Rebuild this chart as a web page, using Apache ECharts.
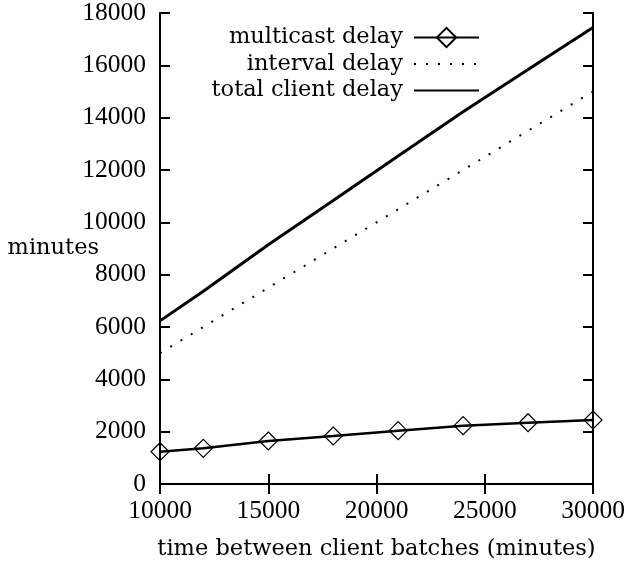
<!DOCTYPE html>
<html><head><meta charset="utf-8">
<script src="https://cdn.jsdelivr.net/npm/echarts@6/dist/echarts.min.js"></script>
<style>html,body{margin:0;padding:0;background:#fff}#c{width:641px;height:565px}</style>
</head><body><div id="c"></div>
<script>
const batchTimes = [10000, 12000, 15000, 18000, 21000, 24000, 27000, 30000];
const multicastDelay = [1234, 1364, 1643, 1834, 2037, 2228, 2342, 2445];
const intervalDelay = [5000, 6000, 7500, 9000, 10500, 12000, 13500, 15000];
const totalDelay = [6234, 7364, 9143, 10834, 12537, 14228, 15842, 17445];
const xTicks = [10000, 15000, 20000, 25000, 30000];
const yTicks = [0, 2000, 4000, 6000, 8000, 10000, 12000, 14000, 16000, 18000];

const pair = (ys) => batchTimes.map((x, i) => [x, ys[i]]);
const textFont = "'DejaVu Serif', serif";
const numFont = "'Liberation Serif', serif";
const chart = echarts.init(document.getElementById('c'), null, {renderer: 'canvas'});
const axisCommon = {
  type: 'value',
  axisLine: {show: true, lineStyle: {color: '#000', width: 2}},
  axisTick: {show: true, inside: true, length: 10, lineStyle: {color: '#000', width: 2}},
  splitLine: {show: false},
};
chart.setOption({
  animation: false,
  backgroundColor: '#fff',
  textStyle: {fontFamily: textFont, color: '#000'},
  grid: {left: 160, right: 48, top: 13, bottom: 81, containLabel: false, outerBoundsMode: 'none'},
  legend: {
    right: 156, top: 21, orient: 'vertical', align: 'right',
    itemWidth: 65, itemHeight: 24, itemGap: 3.5,
    textStyle: {fontFamily: textFont, fontSize: 22.5, color: '#000', padding: [0, 6, 0, 0]},
    data: [
      {name: 'multicast delay'},
      {name: 'interval delay', itemStyle: {opacity: 0}},
      {name: 'total client delay', itemStyle: {opacity: 0}}
    ]
  },
  xAxis: [
    Object.assign({}, axisCommon, {
      min: 10000, max: 30000, interval: 5000, position: 'bottom',
      axisLabel: {fontFamily: numFont, fontSize: 25.5, color: '#000', margin: 14,
        formatter: (v) => String(v)},
      name: 'time between client batches (minutes)', nameLocation: 'middle', nameGap: 54,
      nameMoveOverlap: false,
      nameTextStyle: {fontFamily: textFont, fontSize: 22.5, color: '#000'}
    }),
    Object.assign({}, axisCommon, {
      min: 10000, max: 30000, interval: 5000, position: 'top',
      axisLabel: {show: false}
    })
  ],
  yAxis: [
    Object.assign({}, axisCommon, {
      min: 0, max: 18000, interval: 2000, position: 'left',
      axisLabel: {fontFamily: numFont, fontSize: 25.5, color: '#000', margin: 14,
        formatter: (v) => String(v)},
      name: 'minutes', nameLocation: 'middle', nameRotate: 0, nameGap: 61,
      nameMoveOverlap: false,
      nameTextStyle: {fontFamily: textFont, fontSize: 22.5, color: '#000'}
    }),
    Object.assign({}, axisCommon, {
      min: 0, max: 18000, interval: 2000, position: 'right',
      axisLabel: {show: false}
    })
  ],
  series: [
    {
      name: 'multicast delay', type: 'line', data: pair(multicastDelay),
      symbol: 'diamond', symbolSize: 18, showSymbol: true,
      lineStyle: {color: '#000', width: 2.5},
      itemStyle: {color: 'rgba(255,255,255,0)', borderColor: '#000', borderWidth: 1.2},
      z: 3
    },
    {
      name: 'interval delay', type: 'line', data: pair(intervalDelay),
      symbol: 'none',
      lineStyle: {color: '#000', width: 2, type: [2, 10]},
      itemStyle: {color: '#000'}
    },
    {
      name: 'total client delay', type: 'line', data: pair(totalDelay),
      symbol: 'none',
      lineStyle: {color: '#000', width: 3},
      itemStyle: {color: '#000'}
    }
  ]
});
</script></body></html>
